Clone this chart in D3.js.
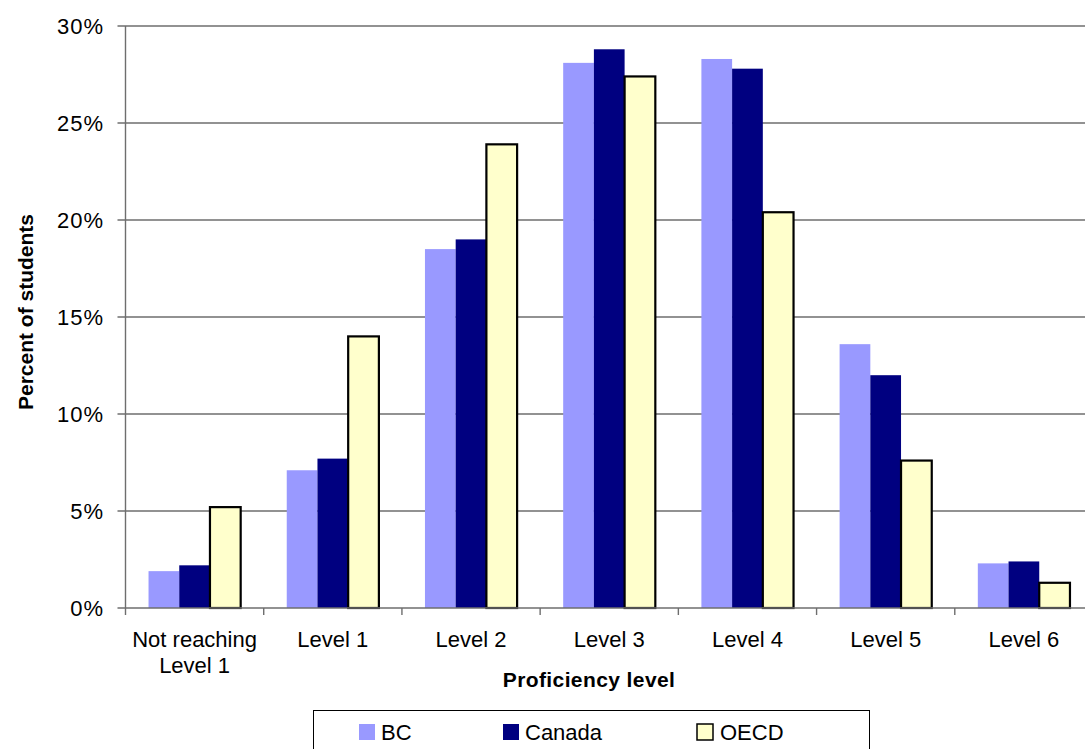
<!DOCTYPE html>
<html>
<head>
<meta charset="utf-8">
<script src="https://cdn.jsdelivr.net/npm/d3@7"></script>
<style>
  html, body { margin: 0; padding: 0; background: #fff; overflow: hidden; }
  svg { display: block; font-family: "Liberation Sans", Arial, sans-serif; }
</style>
</head>
<body>
<svg id="chart" width="1085" height="749"></svg>
<script>
// ---- data ----
const levels = [["Not reaching", "Level 1"], ["Level 1"], ["Level 2"], ["Level 3"], ["Level 4"], ["Level 5"], ["Level 6"]];
const seriesNames = ["BC", "Canada", "OECD"];
const bcValues = [1.9, 7.1, 18.5, 28.1, 28.3, 13.6, 2.3];
const canadaValues = [2.2, 7.7, 19.0, 28.8, 27.8, 12.0, 2.4];
const oecdValues = [5.2, 14.0, 23.9, 27.4, 20.4, 7.6, 1.3];
const yTicks = [0, 5, 10, 15, 20, 25, 30];

const colors = { BC: "#9999ff", Canada: "#000080", OECD: "#ffffcc" };
const seriesValues = { BC: bcValues, Canada: canadaValues, OECD: oecdValues };

(function () {
  const svg = d3.select("#chart");
  const pLeft = 125.5, pRight = 1093, pTop = 26, pBottom = 608;

  const x0 = d3.scaleBand().domain(d3.range(levels.length))
    .range([pLeft, pRight]).paddingInner(1 / 3).paddingOuter(1 / 6);
  const x1 = d3.scaleBand().domain(seriesNames).range([0, x0.bandwidth()]);
  const y = d3.scaleLinear().domain([0, 30]).range([pBottom, pTop]);

  // 网格线
  svg.append("g").selectAll("line").data(yTicks.filter((d) => d > 0)).join("line")
    .attr("x1", pLeft - 8).attr("x2", pRight)
    .attr("y1", (d) => y(d)).attr("y2", (d) => y(d))
    .attr("stroke", "#6e6e6e").attr("stroke-width", 1.4);

  // y 轴刻度文字
  svg.append("g").selectAll("text").data(yTicks).join("text")
    .attr("x", 104).attr("y", (d) => y(d)).attr("dy", "0.36em")
    .attr("text-anchor", "end").style("font-size", "22px").style("letter-spacing", "1px")
    .attr("fill", "#000").text((d) => d + "%");

  // 柱子
  const groups = svg.append("g").selectAll("g").data(levels).join("g")
    .attr("transform", (d, i) => `translate(${x0(i)},0)`);
  groups.selectAll("rect")
    .data((d, i) => seriesNames.map((s) => ({ s, v: seriesValues[s][i] })))
    .join("rect")
    .attr("x", (d) => x1(d.s)).attr("width", x1.bandwidth())
    .attr("y", (d) => y(d.v)).attr("height", (d) => pBottom - y(d.v))
    .attr("fill", (d) => colors[d.s])
    .attr("stroke", (d) => (d.s === "OECD" ? "#000" : "none"))
    .attr("stroke-width", 2.2);

  // 坐标轴线
  svg.append("line").attr("x1", pLeft).attr("x2", pLeft).attr("y1", pTop).attr("y2", pBottom)
    .attr("stroke", "#6e6e6e").attr("stroke-width", 1.4);
  svg.append("line").attr("x1", pLeft - 8).attr("x2", pRight).attr("y1", pBottom).attr("y2", pBottom)
    .attr("stroke", "#6e6e6e").attr("stroke-width", 1.4);
  // x 轴分类刻度
  const step = x0.step();
  svg.append("g").selectAll("line").data(d3.range(levels.length + 1)).join("line")
    .attr("x1", (d) => pLeft + d * step).attr("x2", (d) => pLeft + d * step)
    .attr("y1", pBottom).attr("y2", pBottom + 7)
    .attr("stroke", "#6e6e6e").attr("stroke-width", 1.4);

  // x 分类标签
  const lab = svg.append("g").selectAll("text").data(levels).join("text")
    .attr("x", (d, i) => x0(i) + x0.bandwidth() / 2).attr("y", 647)
    .attr("text-anchor", "middle").style("font-size", "22px").attr("fill", "#000");
  lab.selectAll("tspan").data((d) => d).join("tspan")
    .attr("x", function () { return this.parentNode.getAttribute("x"); })
    .attr("dy", (d, i) => (i === 0 ? 0 : 26)).text((d) => d);

  // 轴标题
  svg.append("text").attr("x", 589).attr("y", 687).attr("text-anchor", "middle")
    .style("font-size", "21px").style("font-weight", "bold").style("letter-spacing", "0.4px")
    .text("Proficiency level");
  svg.append("text").attr("transform", "translate(33,312) rotate(-90)").attr("text-anchor", "middle")
    .style("font-size", "21px").style("font-weight", "bold")
    .text("Percent of students");

  // 图例
  svg.append("rect").attr("x", 313.5).attr("y", 710.5).attr("width", 556).attr("height", 60)
    .attr("fill", "#fff").attr("stroke", "#000").attr("stroke-width", 1);
  const legendX = [359, 503, 697];
  const lg = svg.append("g").selectAll("g").data(seriesNames).join("g")
    .attr("transform", (d, i) => `translate(${legendX[i]},724)`);
  lg.append("rect").attr("width", 16).attr("height", 16)
    .attr("fill", (d) => colors[d])
    .attr("stroke", (d) => (d === "OECD" ? "#000" : "none")).attr("stroke-width", 1.5);
  lg.append("text").attr("x", (d) => (d === "OECD" ? 23 : 22)).attr("y", 15.5)
    .style("font-size", "22px").text((d) => d);
})();
</script>
</body>
</html>
